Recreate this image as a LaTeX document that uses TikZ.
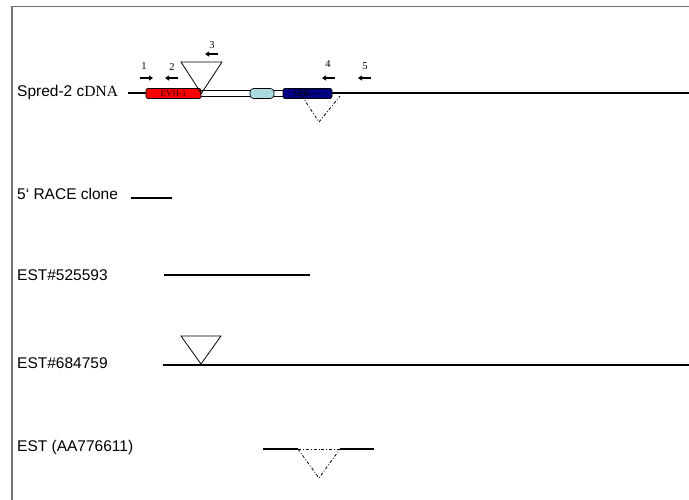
\documentclass[tikz,border=0pt]{standalone}
\usepackage{fontspec}
\setmainfont{Liberation Serif}
\setsansfont{Liberation Sans}
\usetikzlibrary{arrows.meta}
\begin{document}
\begin{tikzpicture}[x=1pt,y=-1pt,
  lbl/.style={anchor=west, inner sep=0pt, font=\sffamily\fontsize{15.5}{15.5}\selectfont},
  num/.style={inner sep=0pt, font=\rmfamily\fontsize{10.5}{10.5}\selectfont},
  seq/.style={line width=1.7pt},
  primer/.style={line width=1.3pt, -{Triangle[length=4pt,width=5pt]}},
  ins/.style={line width=0.8pt},
  gap/.style={line width=0.8pt, dash dot},
  dom/.style={draw=black, line width=0.7pt, rounded corners=2pt, inner sep=0pt, minimum height=10pt,
    font=\rmfamily\fontsize{9}{9}\selectfont},
  hollow/.style={draw=black, fill=white, line width=0.6pt, inner sep=0pt, minimum height=6pt}
]
\useasboundingbox (0,0) rectangle (689,500);
\draw[line width=1.3pt, black!55] (12,500) -- (12,6.5) -- (689,6.5);

% Spred-2 cDNA
\node[lbl] (l1) at (17,92) {Spred-2 c\rmfamily DNA};
\coordinate (m0) at (128,93);
\coordinate (m1) at (689,93);
\draw[seq] (m0) -- (m1);
\node[hollow, minimum width=50pt] (h1) at (225.5,93) {};
\node[hollow, minimum width=10pt] (h2) at (278.5,93) {};
\node[dom, fill=red, minimum width=55pt, text=black!80!red] (evh) at (173.5,93.5) {EVH-1};
\node[dom, fill={rgb,255:red,170;green,218;blue,222}, minimum width=24pt, rounded corners=3.5pt] (mid) at (262,93.5) {};
\node[dom, fill={rgb,255:red,0;green,0;blue,128}, minimum width=49pt] (spr) at (307.5,93.5) {SPR-\,-\,-};
\draw[ins] (181,62) -- (222,62) -- (evh.east) -- cycle;
\coordinate (v1) at (302,96);
\coordinate (v2) at (319,122);
\coordinate (v3) at (340,96);
\draw[gap] (v1) -- (v2) -- (v3);

% primers
\coordinate (p1a) at (140,78); \coordinate (p1b) at (153,78);
\coordinate (p2a) at (178,78); \coordinate (p2b) at (165,78);
\coordinate (p3a) at (218,54); \coordinate (p3b) at (205,54);
\coordinate (p4a) at (335,78); \coordinate (p4b) at (322,78);
\coordinate (p5a) at (371,78); \coordinate (p5b) at (358,78);
\draw[primer] (p1a) -- (p1b);
\draw[primer] (p2a) -- (p2b);
\draw[primer] (p3a) -- (p3b);
\draw[primer] (p4a) -- (p4b);
\draw[primer] (p5a) -- (p5b);
\node[num] (n1) at (144,66) {1};
\node[num] (n2) at (172,67) {2};
\node[num] (n3) at (212,45) {3};
\node[num] (n4) at (328,64) {4};
\node[num] (n5) at (365,66) {5};

% 5' RACE
\node[lbl] (l2) at (17,194) {5‘ RACE clone};
\coordinate (r0) at (131,198); \coordinate (r1) at (172,198);
\draw[seq] (r0) -- (r1);

% EST#525593
\node[lbl] (l3) at (17,275) {EST\#525593};
\coordinate (a0) at (164,275); \coordinate (a1) at (310,275);
\draw[seq] (a0) -- (a1);

% EST#684759
\node[lbl] (l4) at (17,363) {EST\#684759};
\coordinate (b0) at (163,365); \coordinate (b1) at (689,365);
\draw[seq] (b0) -- (b1);
\coordinate (bt) at (201,364);
\draw[ins] (181,336) -- (221,336) -- (bt) -- cycle;

% EST (AA776611)
\node[lbl] (l5) at (17,447) {EST (AA776611)};
\coordinate (c0) at (263,449); \coordinate (c1) at (298,449);
\coordinate (c2) at (340,449); \coordinate (c3) at (374,449);
\coordinate (cv) at (319,478);
\draw[seq] (c0) -- (c1);
\draw[seq] (c2) -- (c3);
\draw[gap] (c1) -- (c2);
\draw[gap] (c1) -- (cv) -- (c2);
\end{tikzpicture}
\end{document}
